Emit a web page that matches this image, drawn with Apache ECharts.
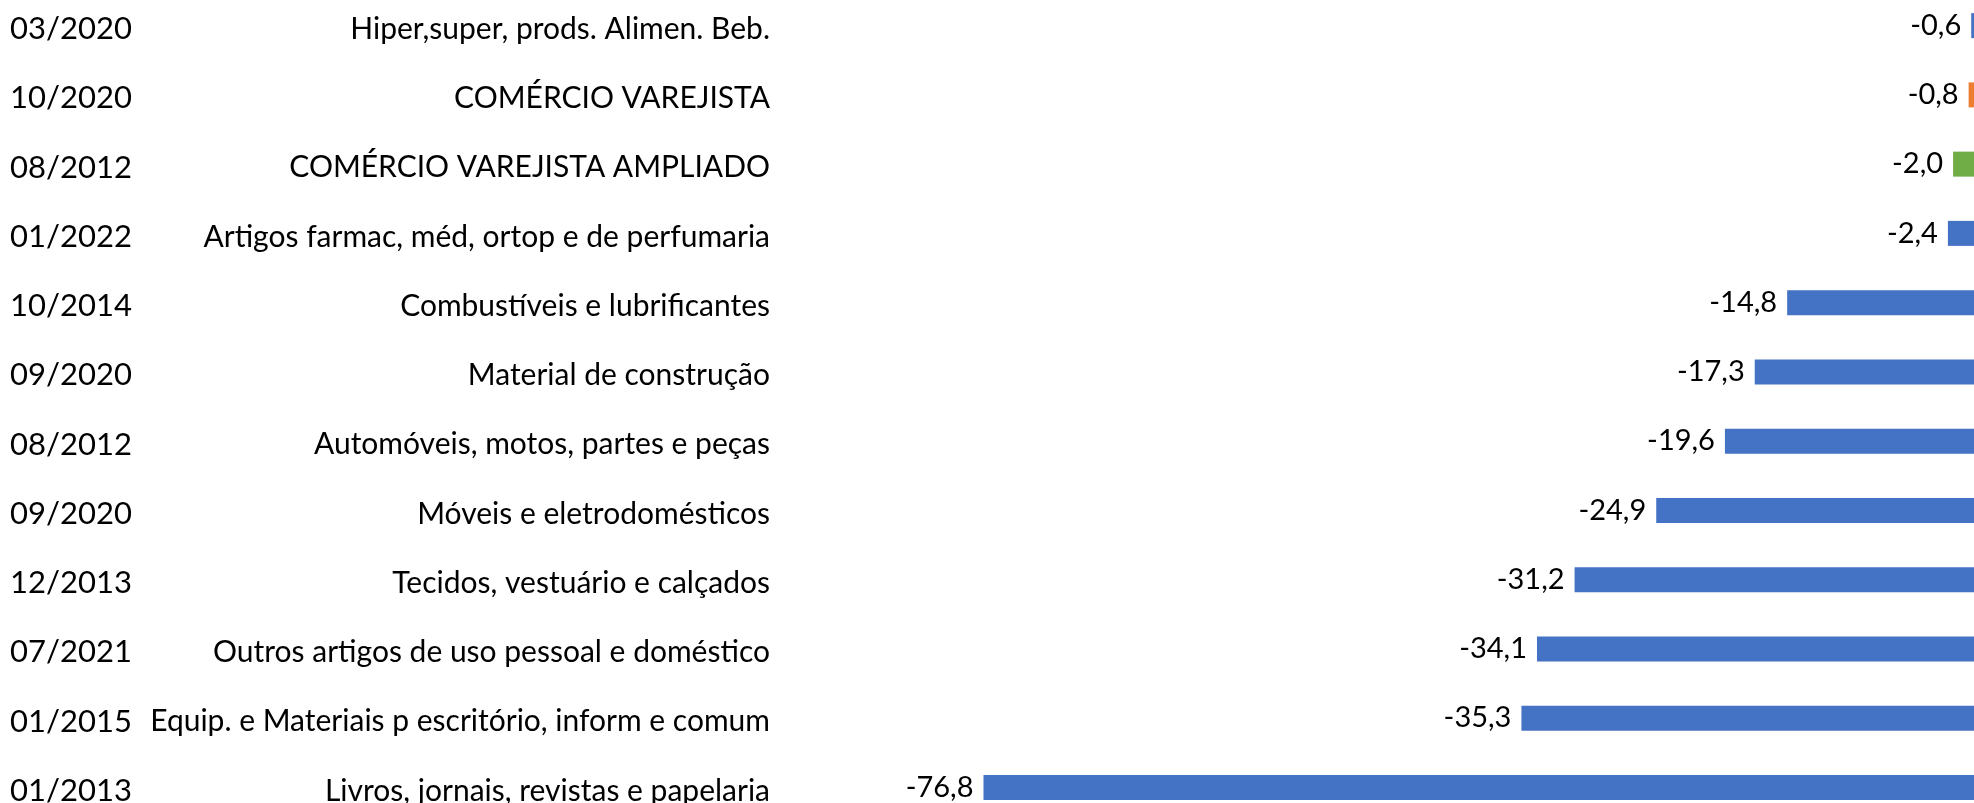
<!DOCTYPE html>
<html>
<head>
<meta charset="utf-8">
<script src="https://cdn.jsdelivr.net/npm/echarts@6/dist/echarts.min.js"></script>
<style>
    html, body { margin: 0; padding: 0; background: #fff; }
    #chart { width: 1974px; height: 803px; }
</style>
</head>
<body>
<div id="chart"></div>
<script>
const dates = ["03/2020", "10/2020", "08/2012", "01/2022", "10/2014", "09/2020",
    "08/2012", "09/2020", "12/2013", "07/2021", "01/2015", "01/2013"];
const names = [
    "Hiper,super, prods. Alimen. Beb.",
    "COMÉRCIO VAREJISTA",
    "COMÉRCIO VAREJISTA AMPLIADO",
    "Artigos farmac, méd, ortop e de perfumaria",
    "Combustíveis e lubrificantes",
    "Material de construção",
    "Automóveis, motos, partes e peças",
    "Móveis e eletrodomésticos",
    "Tecidos, vestuário e calçados",
    "Outros artigos de uso pessoal e doméstico",
    "Equip. e Materiais p escritório, inform e comum",
    "Livros, jornais, revistas e papelaria"
];
const values = [-0.6, -0.8, -2.0, -2.4, -14.8, -17.3, -19.6, -24.9, -31.2, -34.1, -35.3, -76.8];
const barColors = ["#4472C4", "#ED7D31", "#70AD47", "#4472C4", "#4472C4", "#4472C4",
    "#4472C4", "#4472C4", "#4472C4", "#4472C4", "#4472C4", "#4472C4"];

const font = "Lato, 'Open Sans', sans-serif";
const categories = dates.map((d, i) => d + "|" + names[i]);

const chart = echarts.init(document.getElementById("chart"));
chart.setOption({
    animation: false,
    grid: {
        left: 942, right: -5, top: -9, height: 831,
        containLabel: false, outerBoundsMode: "none"
    },
    xAxis: {
        type: "value", min: -80, max: 0,
        show: false
    },
    yAxis: {
        type: "category",
        data: categories,
        inverse: true,
        axisLine: { show: false },
        axisTick: { show: false },
        splitLine: { show: false },
        axisLabel: {
            margin: 172,
            padding: [7, 0, 0, 0],
            formatter: v => {
                const parts = v.split("|");
                return "{d|" + parts[0] + "}{n|" + parts[1] + "}";
            },
            rich: {
                d: { width: 120, align: "left", fontFamily: font, fontSize: 31, color: "#000" },
                n: { width: 640, align: "right", fontFamily: font, fontSize: 30, color: "#000" }
            }
        }
    },
    series: [{
        type: "bar",
        barWidth: 25,
        data: values.map((v, i) => ({ value: v, itemStyle: { color: barColors[i] } })),
        label: {
            show: true,
            position: "left",
            distance: 10,
            padding: [6, 0, 0, 0],
            fontFamily: font,
            fontSize: 29,
            color: "#000",
            formatter: p => p.value.toFixed(1).replace(".", ",")
        }
    }]
});
</script>
</body>
</html>
